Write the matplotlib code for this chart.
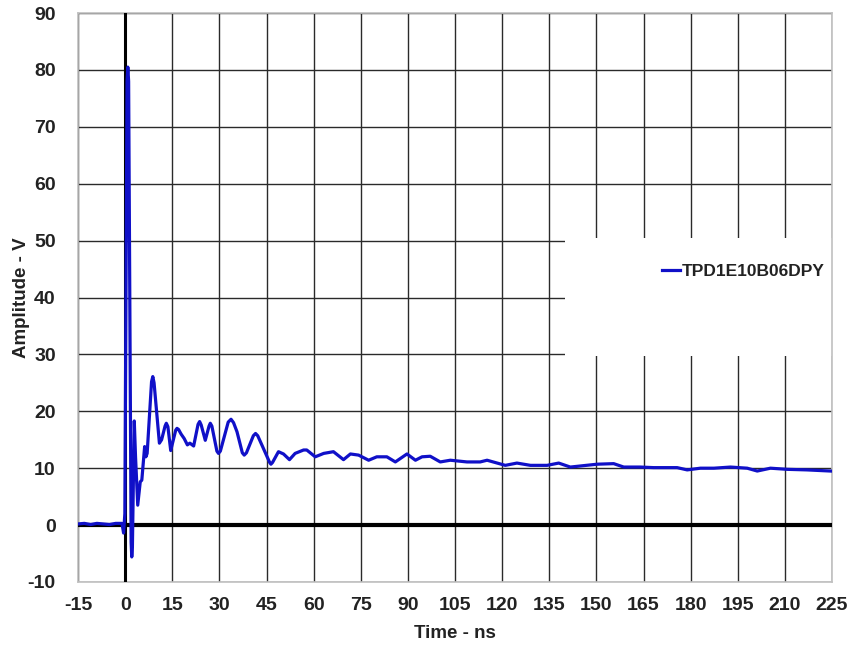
import matplotlib
matplotlib.use("Agg")
import matplotlib.pyplot as plt
from matplotlib.patches import Rectangle

# waveform (ns, V)
time_ns = [
    -15.0, -13.0, -11.0, -9.0, -7.0, -5.0, -3.0, -1.0, -0.5, -0.1, 0.6, 0.85,
    1.1, 1.9, 2.1, 2.3, 2.9, 3.3, 4.0, 4.8, 5.3, 6.2, 6.6, 7.0, 8.4, 8.8, 9.2,
    10.9, 11.6, 12.7, 13.1, 13.6, 14.5, 16.1, 16.5, 17.0, 17.8, 18.8, 19.8,
    20.6, 21.8, 23.2, 23.7, 24.2, 25.5, 26.7, 27.1, 27.6, 29.2, 29.7, 30.3,
    32.8, 33.7, 34.5, 35.6, 37.3, 37.9, 38.6, 40.8, 41.5, 42.2, 43.5, 46.0,
    46.4, 46.9, 48.8, 50.4, 52.3, 54.1, 56.8, 57.8, 60.5, 63.2, 66.3, 69.5,
    71.7, 74.3, 77.5, 80.1, 83.3, 86.0, 89.7, 92.4, 94.5, 97.1, 100.3, 103.5,
    108.8, 113.0, 115.2, 121.0, 124.7, 129.0, 134.3, 138.0, 141.7, 150.2,
    155.5, 158.7, 164.0, 168.2, 175.7, 178.9, 183.1, 187.4, 192.7, 198.0,
    201.2, 205.4, 210.7, 217.0, 224.5,
]
amplitude_v = [
    0.2, 0.3, 0.1, 0.3, 0.2, 0.1, 0.3, 0.3, -1.4, 2.0, 78.0, 80.5,
    78.0, -3.0, -5.6, -4.0, 18.3, 12.0, 3.5, 7.6, 7.9, 13.8, 12.0, 12.6, 25.2, 26.1, 25.0,
    14.4, 15.0, 17.4, 17.9, 17.3, 13.1, 16.7, 17.0, 16.8, 16.0, 15.2, 14.1,
    14.4, 13.9, 17.7, 18.2, 17.6, 14.9, 17.4, 17.9, 17.4, 13.0, 12.6, 13.0,
    18.1, 18.6, 18.0, 16.4, 12.7, 12.3, 12.7, 15.7, 16.1, 15.7, 14.1, 11.0,
    10.7, 11.0, 12.9, 12.5, 11.5, 12.6, 13.2, 13.2, 12.0, 12.6, 12.9, 11.5,
    12.5, 12.3, 11.4, 12.0, 12.0, 11.1, 12.5, 11.4, 12.0, 12.1, 11.1, 11.4,
    11.1, 11.1, 11.4, 10.5, 10.9, 10.5, 10.5, 10.9, 10.2, 10.7,
    10.8, 10.2, 10.2, 10.1, 10.1, 9.7, 10.0, 10.0, 10.2, 10.0,
    9.5, 10.0, 9.8, 9.7, 9.5,
]
x_ticks = list(range(-15, 226, 15))
y_ticks = list(range(-10, 91, 10))
series_name = "TPD1E10B06DPY"

plt.rcParams["font.family"] = ["Liberation Sans", "DejaVu Sans"]
plt.rcParams["font.weight"] = "bold"
plt.rcParams["axes.unicode_minus"] = False

fig = plt.figure(figsize=(8.51, 6.45), dpi=100)
ax = fig.add_axes([0.0917, 0.0977, 0.886, 0.8821])

ax.set_xlim(-15, 225)
ax.set_ylim(-10, 90)
ax.set_xticks(x_ticks)
ax.set_yticks(y_ticks)
ax.tick_params(length=0, labelsize=14, colors="#222222")
ax.tick_params(axis="x", pad=11)
ax.tick_params(axis="y", pad=16)
for lbl in ax.get_xticklabels() + ax.get_yticklabels():
    lbl.set_fontweight("bold")

ax.grid(True, color="#2a2a2a", linewidth=1.0, zorder=1)
ax.set_axisbelow(True)
for s in ax.spines.values():
    s.set_color("#c0c0c0")
    s.set_linewidth(1.2)

# white patch behind the legend hides the grid there
ax.add_patch(Rectangle((0.646, 0.397), 0.354, 0.208, transform=ax.transAxes,
                       facecolor="white", edgecolor="none", zorder=2))

ax.axhline(0, color="black", linewidth=3.0, zorder=3)
ax.axvline(0, color="black", linewidth=2.2, zorder=3)

ax.plot(time_ns, amplitude_v, color="#1010c8", linewidth=2.3,
        label=series_name, zorder=4)

leg = ax.legend(loc="center left", bbox_to_anchor=(0.754, 0.545),
                frameon=False, handlelength=1.0, handletextpad=0.1,
                prop={"size": 12.5, "weight": "bold"})
for t in leg.get_texts():
    t.set_color("#222222")

ax.set_xlabel("Time - ns", fontsize=13.5, fontweight="bold", color="#222222",
              labelpad=8)
ax.set_ylabel("Amplitude - V", fontsize=13.5, fontweight="bold", color="#222222")
ax.yaxis.set_label_coords(-0.064, 0.5)

fig.savefig("out.png", dpi=100)
plt.close(fig)
